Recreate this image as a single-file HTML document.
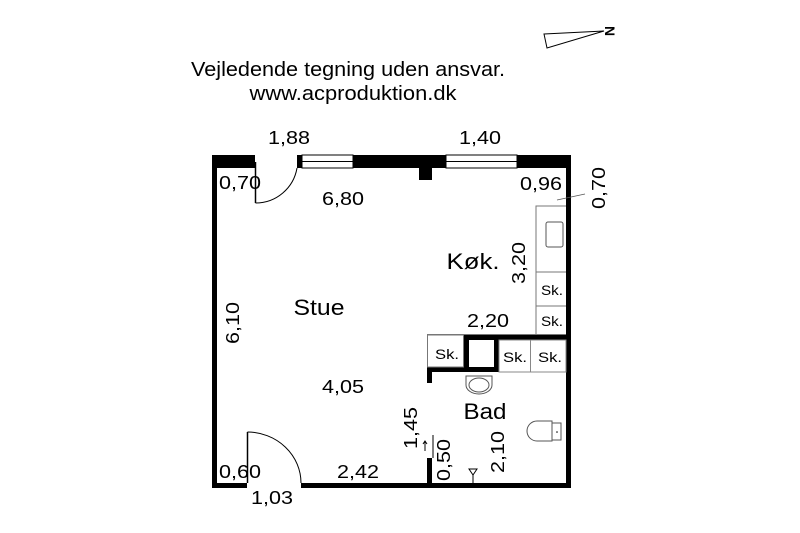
<!DOCTYPE html>
<html><head><meta charset="utf-8"><style>
html,body{margin:0;padding:0;background:#fff;}
svg{display:block;}
text{font-family:"Liberation Sans",Arial,sans-serif;fill:#000;}
</style></head><body>
<svg width="800" height="533" viewBox="0 0 800 533" xmlns="http://www.w3.org/2000/svg">
<rect width="800" height="533" fill="#fff"/>
<text x="348" y="76" font-size="20" text-anchor="middle" textLength="314" lengthAdjust="spacingAndGlyphs">Vejledende tegning uden ansvar.</text>
<text x="353" y="100" font-size="20" text-anchor="middle" textLength="207" lengthAdjust="spacingAndGlyphs">www.acproduktion.dk</text>
<polygon points="544,34 604,31 547,48" fill="none" stroke="#000" stroke-width="1"/>
<text x="0" y="0" font-size="14" font-weight="bold" transform="translate(610,31) rotate(90)" text-anchor="middle" dy="5">N</text>

<rect x="212" y="155" width="43" height="13" fill="#000"/>
<rect x="297" y="155" width="5" height="13" fill="#000"/>
<rect x="302" y="155" width="51" height="13" fill="#fff" stroke="#000" stroke-width="1"/>
<line x1="302" y1="161.5" x2="353" y2="161.5" stroke="#000" stroke-width="1"/>
<rect x="353" y="155" width="93" height="13" fill="#000"/>
<rect x="446" y="155" width="71" height="13" fill="#fff" stroke="#000" stroke-width="1"/>
<line x1="446" y1="161.5" x2="517" y2="161.5" stroke="#000" stroke-width="1"/>
<rect x="517" y="155" width="54" height="13" fill="#000"/>
<rect x="419" y="167" width="13" height="13" fill="#000"/>
<rect x="212" y="155" width="5" height="333" fill="#000"/>
<rect x="566" y="155" width="5" height="333" fill="#000"/>
<rect x="212" y="483" width="35" height="5" fill="#000"/>
<rect x="301" y="483" width="270" height="5" fill="#000"/>
<line x1="255.5" y1="162" x2="255.5" y2="203" stroke="#000" stroke-width="1.5"/>
<path d="M255.5,203 A42,42 0 0 0 297,168" fill="none" stroke="#000" stroke-width="1"/>
<line x1="247.5" y1="432" x2="247.5" y2="483" stroke="#000" stroke-width="1.5"/>
<path d="M247.5,432 A54,51 0 0 1 301,483" fill="none" stroke="#000" stroke-width="1"/>

<polyline points="566,206 536,206 536,334" fill="none" stroke="#777" stroke-width="1"/>
<rect x="546" y="222" width="17" height="25" rx="2" fill="none" stroke="#555" stroke-width="1"/>
<line x1="536" y1="272" x2="566" y2="272" stroke="#777"/>
<line x1="536" y1="306" x2="566" y2="306" stroke="#777"/>
<line x1="427" y1="334.5" x2="566" y2="334.5" stroke="#777"/>
<line x1="557" y1="200" x2="585" y2="194" stroke="#555" stroke-width="0.8"/>

<rect x="463" y="335" width="108" height="5" fill="#000"/>
<rect x="463" y="335" width="6" height="37" fill="#000"/>
<rect x="494" y="335" width="5" height="37" fill="#000"/>
<rect x="427" y="367" width="72" height="5" fill="#000"/>
<rect x="427" y="367" width="5" height="16" fill="#000"/>
<rect x="427.5" y="335" width="36" height="32" fill="none" stroke="#777"/>
<rect x="499" y="340" width="67" height="32" fill="none" stroke="#888"/>
<line x1="530.5" y1="340" x2="530.5" y2="372" stroke="#888"/>
<rect x="427" y="458" width="5" height="30" fill="#000"/>
<line x1="433" y1="435" x2="433" y2="458" stroke="#000" stroke-width="1"/>
<line x1="425" y1="441" x2="425" y2="451" stroke="#000" stroke-width="1"/>
<polyline points="423,444 425,441 427,444" fill="none" stroke="#000" stroke-width="1"/>
<path d="M466,376 L492,376 L492,385 A13,9 0 0 1 466,385 Z" fill="none" stroke="#555"/>
<ellipse cx="479" cy="385" rx="10" ry="7" fill="none" stroke="#555"/>
<path d="M552,421 L537,421 A10,10 0 0 0 537,441 L552,441 Z" fill="none" stroke="#555"/>
<rect x="552" y="423" width="9" height="17" fill="none" stroke="#555"/>
<circle cx="557" cy="432" r="0.8" fill="#000"/>
<polygon points="469,469 477,469 473,475" fill="none" stroke="#000" stroke-width="1"/>
<line x1="473" y1="475" x2="473" y2="483" stroke="#000"/>

<g font-size="18.5" text-anchor="middle" lengthAdjust="spacingAndGlyphs">
<text x="289" y="144" textLength="42" lengthAdjust="spacingAndGlyphs">1,88</text>
<text x="480" y="144" textLength="42" lengthAdjust="spacingAndGlyphs">1,40</text>
<text x="240" y="189" textLength="42" lengthAdjust="spacingAndGlyphs">0,70</text>
<text x="343" y="205" textLength="42" lengthAdjust="spacingAndGlyphs">6,80</text>
<text x="541" y="190" textLength="42" lengthAdjust="spacingAndGlyphs">0,96</text>
<text x="488" y="327" textLength="42" lengthAdjust="spacingAndGlyphs">2,20</text>
<text x="343" y="393" textLength="42" lengthAdjust="spacingAndGlyphs">4,05</text>
<text x="240" y="478" textLength="42" lengthAdjust="spacingAndGlyphs">0,60</text>
<text x="358" y="478" textLength="42" lengthAdjust="spacingAndGlyphs">2,42</text>
<text x="272" y="504" textLength="42" lengthAdjust="spacingAndGlyphs">1,03</text>
<text transform="translate(605,188) rotate(-90)" textLength="42" lengthAdjust="spacingAndGlyphs">0,70</text>
<text transform="translate(525,263) rotate(-90)" textLength="42" lengthAdjust="spacingAndGlyphs">3,20</text>
<text transform="translate(239,323) rotate(-90)" textLength="42" lengthAdjust="spacingAndGlyphs">6,10</text>
<text transform="translate(417,428) rotate(-90)" textLength="42" lengthAdjust="spacingAndGlyphs">1,45</text>
<text transform="translate(450,460) rotate(-90)" textLength="42" lengthAdjust="spacingAndGlyphs">0,50</text>
<text transform="translate(504,452) rotate(-90)" textLength="42" lengthAdjust="spacingAndGlyphs">2,10</text>
</g>
<g font-size="22" text-anchor="middle">
<text x="473" y="269" textLength="53" lengthAdjust="spacingAndGlyphs">Køk.</text>
<text x="319" y="315" textLength="51" lengthAdjust="spacingAndGlyphs">Stue</text>
<text x="485" y="419" textLength="43" lengthAdjust="spacingAndGlyphs">Bad</text>
</g>
<g font-size="14" text-anchor="middle">
<text x="552" y="295" textLength="22" lengthAdjust="spacingAndGlyphs">Sk.</text>
<text x="552" y="326" textLength="22" lengthAdjust="spacingAndGlyphs">Sk.</text>
<text x="447" y="359" textLength="24" lengthAdjust="spacingAndGlyphs">Sk.</text>
<text x="515" y="362" textLength="24" lengthAdjust="spacingAndGlyphs">Sk.</text>
<text x="550" y="362" textLength="24" lengthAdjust="spacingAndGlyphs">Sk.</text>
</g>
</svg>
</body></html>
